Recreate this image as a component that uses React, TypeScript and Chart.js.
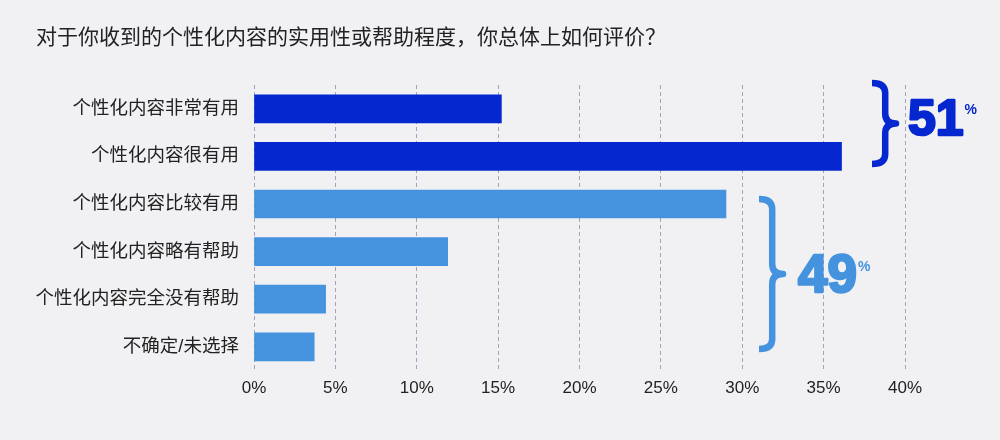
import React, { useEffect, useRef } from 'react';
import Chart from 'chart.js/auto';

const categories = [
  '个性化内容非常有用',
  '个性化内容很有用',
  '个性化内容比较有用',
  '个性化内容略有帮助',
  '个性化内容完全没有帮助',
  '不确定/未选择',
];
const values = [15.2, 36.1, 29.0, 11.9, 4.4, 3.7];
const barColors = ['#0527cf', '#0527cf', '#4592de', '#4592de', '#4592de', '#4592de'];
const groupTotals = [51, 49];
const groupColors = ['#0527cf', '#4592de'];
const xTicks = [0, 5, 10, 15, 20, 25, 30, 35, 40];
const title = '对于你收到的个性化内容的实用性或帮助程度，你总体上如何评价？';

const FONT = '"Liberation Sans", "Noto Sans CJK SC", sans-serif';

function drawBrace(ctx: any, x: number, yTop: number, yBot: number, w: number, color: string) {
  const mid = (yTop + yBot) / 2;
  const sx = x + w * 0.55;
  const r = 10;
  ctx.save();
  ctx.strokeStyle = color;
  ctx.lineWidth = 6.5;
  ctx.lineCap = 'butt';
  ctx.lineJoin = 'round';
  ctx.beginPath();
  ctx.moveTo(x, yTop + 3);
  ctx.quadraticCurveTo(sx, yTop + 3, sx, yTop + r + 3);
  ctx.lineTo(sx, mid - r);
  ctx.quadraticCurveTo(sx, mid, x + w, mid);
  ctx.quadraticCurveTo(sx, mid, sx, mid + r);
  ctx.lineTo(sx, yBot - r - 3);
  ctx.quadraticCurveTo(sx, yBot - 3, x, yBot - 3);
  ctx.stroke();
  ctx.restore();
}

const overlayPlugin = {
  id: 'overlay',
  afterDraw(chart: any) {
    const { ctx } = chart;
    ctx.save();
    ctx.fillStyle = '#222';
    ctx.font = `21px ${FONT}`;
    ctx.textBaseline = 'middle';
    ctx.textAlign = 'left';
    ctx.fillText(title, 36, 38);

    const groups = [
      { x: 872, top: 80, bot: 167, tx: 908, ty: 135, size: 50 },
      { x: 759, top: 196, bot: 352, tx: 798, ty: 292, size: 53 },
    ];
    groups.forEach((g, i) => {
      drawBrace(ctx, g.x, g.top, g.bot, 24, groupColors[i]);
      ctx.fillStyle = groupColors[i];
      ctx.strokeStyle = groupColors[i];
      ctx.lineWidth = 2.5;
      ctx.lineJoin = 'round';
      ctx.textBaseline = 'alphabetic';
      ctx.font = `bold ${g.size}px ${FONT}`;
      const txt = String(groupTotals[i]);
      ctx.fillText(txt, g.tx, g.ty);
      ctx.strokeText(txt, g.tx, g.ty);
      const w = ctx.measureText(txt).width;
      ctx.font = `bold 14px ${FONT}`;
      ctx.fillText('%', g.tx + w + 1, g.ty - 21);
    });
    ctx.restore();
  },
};

function App() {
  const chartRef: any = useRef(null);

  useEffect(() => {
    const ctx = chartRef.current.getContext('2d');
    const chartInstance = new Chart(ctx, {
      type: 'bar',
      data: {
        labels: categories,
        datasets: [
          {
            data: values,
            backgroundColor: barColors,
            borderWidth: 0,
            barThickness: 28,
          },
        ],
      },
      options: {
        indexAxis: 'y',
        animation: false,
        responsive: false,
        layout: { padding: { top: 85, right: 95, bottom: 33, left: 0 } },
        plugins: { legend: { display: false }, tooltip: { enabled: false } },
        scales: {
          x: {
            min: 0,
            max: 40,
            afterBuildTicks: (scale: any) => {
              scale.ticks = xTicks.map((v) => ({ value: v }));
            },
            ticks: {
              callback: (v: any) => v + '%',
              color: '#222',
              font: { family: FONT, size: 17 },
              padding: 8,
            },
            grid: {
              color: '#a4a1bd',
              drawTicks: false,
            },
            border: { display: false, dash: [4, 3] },
          },
          y: {
            afterFit: (scale: any) => {
              scale.width = 254;
            },
            ticks: {
              color: '#222',
              font: { family: FONT, size: 18.5 },
              padding: 7,
            },
            grid: { display: false },
            border: { display: false },
          },
        },
      },
      plugins: [overlayPlugin],
    } as any);

    return () => {
      chartInstance.destroy();
    };
  }, []);

  return (
    <div style={{ position: 'fixed', left: 0, top: 0, width: 1000, height: 440, background: '#f1f1f4' }}>
      <canvas ref={chartRef} width={1000} height={440} style={{ width: 1000, height: 440 }} />
    </div>
  );
}

export default App;
